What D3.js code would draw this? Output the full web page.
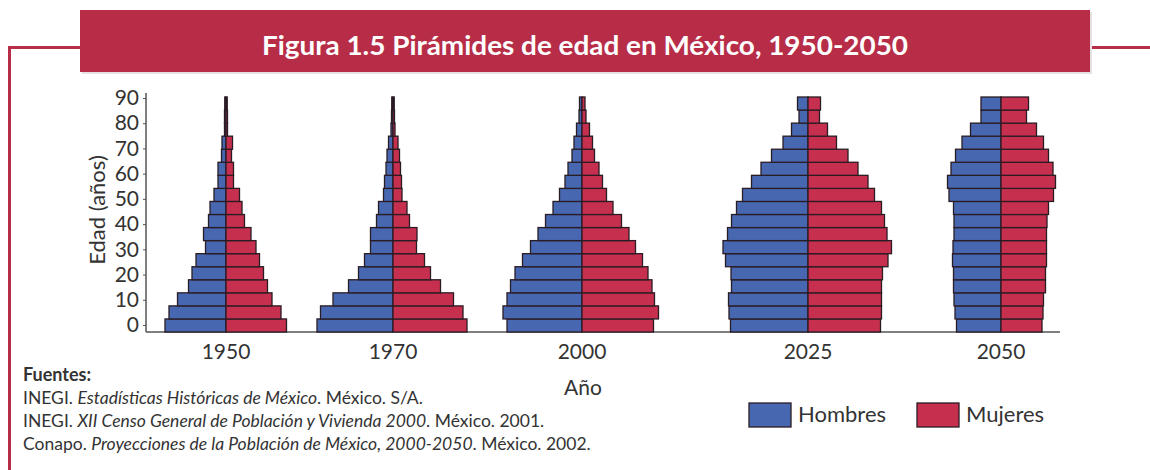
<!DOCTYPE html>
<html><head><meta charset="utf-8">
<script src="https://cdn.jsdelivr.net/npm/d3@7"></script>
<style>
body{margin:0;background:#fff;}
svg{display:block;font-family:Lato,"Open Sans",sans-serif;}
</style>
</head><body>
<svg id="chart" width="1150" height="470"></svg>
<script>
// ---------- DATA ----------
const titleText = "Figura 1.5 Pirámides de edad en México, 1950-2050";
const yAxisTitle = "Edad (años)";
const xAxisTitle = "Año";
const ageGroups = ["0-4","5-9","10-14","15-19","20-24","25-29","30-34","35-39","40-44","45-49","50-54","55-59","60-64","65-69","70-74","75-79","80-84","85+"];
const ageTicks = [0,10,20,30,40,50,60,70,80,90];
const years = ["1950","1970","2000","2025","2050"];
const seriesNames = ["Hombres","Mujeres"];
// relative population by age group
const hombres1950 = [12.2,11.4,9.7,7.5,6.8,6.0,4.1,4.5,3.5,3.2,2.4,1.6,1.6,0.9,0.8,0.3,0.3,0.25];
const mujeres1950 = [12.1,11.0,9.2,8.3,7.5,6.7,6.0,5.0,3.7,3.2,2.7,1.5,1.5,1.1,1.3,0.3,0.3,0.25];
const hombres1970 = [15.2,14.5,12.0,8.9,6.9,5.7,4.5,4.5,3.3,2.9,1.9,1.7,1.4,1.2,0.9,0.4,0.3,0.25];
const mujeres1970 = [14.8,14.0,12.1,9.5,7.5,6.3,4.7,4.8,3.3,2.8,1.8,1.7,1.5,1.3,1.0,0.4,0.3,0.25];
const hombres2000 = [15.0,15.8,15.0,14.3,13.4,11.9,10.3,8.8,7.3,5.8,4.5,3.4,2.8,2.0,1.6,1.1,0.6,0.5];
const mujeres2000 = [14.3,15.3,14.5,14.0,13.2,12.1,10.7,9.4,7.9,6.2,4.9,4.1,3.4,2.5,2.1,1.5,0.8,0.6];
const hombres2025 = [15.5,15.8,15.9,15.3,15.4,16.5,17.0,16.1,15.3,14.3,13.1,11.3,9.4,7.3,5.0,3.3,1.8,2.1];
const mujeres2025 = [14.5,14.7,14.7,14.7,14.9,16.0,16.7,15.8,15.3,14.7,13.3,12.0,10.0,8.0,5.7,3.9,2.3,2.5];
const hombres2050 = [8.9,9.2,9.4,9.5,9.5,9.7,9.6,9.4,9.4,9.5,10.4,10.7,10.0,9.1,7.8,6.1,4.0,4.0];
const mujeres2050 = [8.2,8.4,8.5,8.9,8.9,9.1,9.1,9.1,9.2,9.5,10.5,10.9,10.4,9.5,8.5,7.1,5.1,5.5];
const sourcesHeading = "Fuentes:";
const sourceLines = [
  [["INEGI. ",false],["Estadísticas Históricas de México",true],[". México. S/A.",false]],
  [["INEGI. ",false],["XII Censo General de Población y Vivienda 2000",true],[". México. 2001.",false]],
  [["Conapo. ",false],["Proyecciones de la Población de México, 2000-2050",true],[". México. 2002.",false]]
];

// ---------- LAYOUT / STYLE ----------
const pyramids = [
  {year:"1950", m:hombres1950, f:mujeres1950},
  {year:"1970", m:hombres1970, f:mujeres1970},
  {year:"2000", m:hombres2000, f:mujeres2000},
  {year:"2025", m:hombres2025, f:mujeres2025},
  {year:"2050", m:hombres2050, f:mujeres2050}
];
const frameRed = "#b72d48";
const blue = "#4767b0";
const red = "#c6304e";
const edge = "#2a1c24";
const textCol = "#333";

const svg = d3.select("#chart");

// frame
svg.append("path").attr("d","M9.5,470 V47.5 H80 M1090,47.5 H1150")
  .attr("fill","none").attr("stroke",frameRed).attr("stroke-width",3);
svg.append("rect").attr("x",82).attr("y",12).attr("width",1010).attr("height",62)
  .attr("fill","#e6e0e2");
svg.append("rect").attr("x",80).attr("y",10).attr("width",1010).attr("height",62)
  .attr("fill",frameRed);
svg.append("text").attr("x",585).attr("y",55).attr("text-anchor","middle")
  .attr("fill","#fff").attr("font-weight",700).attr("font-size",26)
  .attr("textLength",646).attr("lengthAdjust","spacingAndGlyphs")
  .text(titleText);

// scales
const axisX = 146, baseY = 332, topY = 97;
const yBand = d3.scaleBand().domain(ageGroups).range([baseY, topY]).paddingInner(0);
const yTick = d3.scaleLinear().domain([0,90]).range([325,98]);
const w = d3.scaleLinear().domain([0,20]).range([0,100]);
const xPanel = d3.scaleOrdinal().domain(years).range([226,393,582,808,1001]);

// y axis
const yAxis = svg.append("g").attr("transform",`translate(${axisX},0)`)
  .call(d3.axisLeft(yTick).tickValues(ageTicks).tickSize(3).tickSizeOuter(0).tickPadding(4));
yAxis.select(".domain").remove();
yAxis.selectAll(".tick line").attr("stroke","#555");
yAxis.selectAll(".tick text").attr("font-size",21).attr("fill",textCol)
  .attr("font-family","Lato,sans-serif");
svg.append("line").attr("x1",axisX).attr("x2",axisX).attr("y1",93).attr("y2",baseY)
  .attr("stroke","#555").attr("stroke-width",1.5);
svg.append("line").attr("x1",axisX).attr("x2",1060).attr("y1",baseY).attr("y2",baseY)
  .attr("stroke","#555").attr("stroke-width",1.5);

svg.append("text").attr("transform",`translate(105,210) rotate(-90)`)
  .attr("text-anchor","middle").attr("font-size",22).attr("fill",textCol).text(yAxisTitle);

// pyramids
pyramids.forEach(p=>{
  const g = svg.append("g").attr("transform",`translate(${xPanel(p.year)},0)`);
  g.selectAll("rect.m").data(p.m).join("rect").attr("class","m")
    .attr("x",d=>-w(d)).attr("width",d=>w(d))
    .attr("y",(d,i)=>yBand(ageGroups[i])).attr("height",yBand.bandwidth())
    .attr("fill",blue).attr("stroke",edge).attr("stroke-width",1.3);
  g.selectAll("rect.f").data(p.f).join("rect").attr("class","f")
    .attr("x",0).attr("width",d=>w(d))
    .attr("y",(d,i)=>yBand(ageGroups[i])).attr("height",yBand.bandwidth())
    .attr("fill",red).attr("stroke",edge).attr("stroke-width",1.3);
  svg.append("text").attr("x",xPanel(p.year)).attr("y",359).attr("text-anchor","middle")
    .attr("font-size",21).attr("fill",textCol).text(p.year);
});

svg.append("text").attr("x",583).attr("y",395).attr("text-anchor","middle")
  .attr("font-size",21).attr("fill",textCol).text(xAxisTitle);

// sources
svg.append("text").attr("x",23).attr("y",381).attr("font-size",18).attr("font-weight",700)
  .attr("fill",textCol).text(sourcesHeading);
sourceLines.forEach((line,i)=>{
  const t = svg.append("text").attr("x",23).attr("y",404+i*23).attr("font-size",17.5).attr("fill",textCol);
  line.forEach(([s,it])=>t.append("tspan").attr("font-style",it?"italic":"normal").text(s));
});

// legend
const legendColors = [blue, red];
const legendX = [749, 917];
seriesNames.forEach((n,i)=>{
  svg.append("rect").attr("x",legendX[i]).attr("y",403).attr("width",42).attr("height",24)
    .attr("fill",legendColors[i]).attr("stroke",edge).attr("stroke-width",1.3);
  svg.append("text").attr("x",legendX[i]+49).attr("y",422).attr("font-size",22)
    .attr("fill",textCol).text(n);
});
</script>
</body></html>
